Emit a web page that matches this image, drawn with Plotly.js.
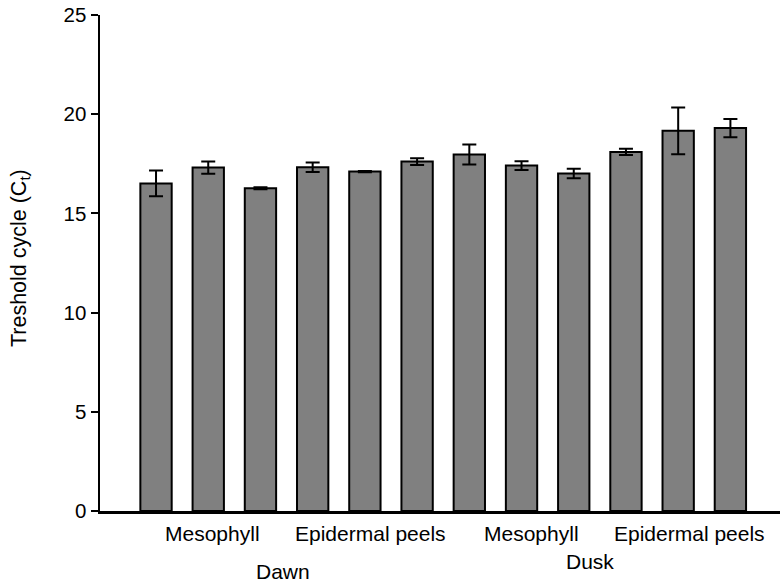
<!DOCTYPE html>
<html>
<head>
<meta charset="utf-8">
<script src="https://cdn.plot.ly/plotly-3.0.1.min.js"></script>
<style>
  html, body { margin: 0; padding: 0; background: #ffffff; }
  #chart { width: 781px; height: 585px; }
</style>
</head>
<body>
<div id="chart"></div>
<script>
// Threshold cycle (Ct) per sample, dawn then dusk, mesophyll then epidermal peels
const ctValues = [16.51, 17.31, 16.27, 17.33, 17.11, 17.61, 17.97, 17.41, 17.01, 18.10, 19.16, 19.30];
const ctErrors = [0.65, 0.31, 0.05, 0.24, 0.03, 0.17, 0.50, 0.22, 0.24, 0.16, 1.18, 0.46];

// Tissue labels and the bar each one sits under
const tissueLabels = ['Mesophyll', 'Epidermal peels', 'Mesophyll', 'Epidermal peels'];
const tissueAt = [2.08, 5.11, 8.19, 11.22];

// Time-of-day labels
const timeLabels = ['Dawn', 'Dusk'];
const timeAt = [3.44, 9.31];
const timeRow = [-0.1219, -0.1012];

const barPos = ctValues.map((_, i) => i + 1);

const font = 'Liberation Sans, Arial, sans-serif';

const trace = {
  type: 'bar',
  x: barPos,
  y: ctValues,
  width: 0.6,
  marker: { color: '#808080', line: { color: '#000000', width: 2 } },
  error_y: { type: 'data', array: ctErrors, visible: true, color: '#000000', thickness: 2, width: 7 },
  hoverinfo: 'y'
};

const annotations = [];
tissueLabels.forEach((t, i) => annotations.push({
  text: t, x: tissueAt[i], xref: 'x', y: -0.0463, yref: 'paper',
  xanchor: 'center', yanchor: 'middle', showarrow: false,
  font: { family: font, size: 21, color: '#000000' }
}));
timeLabels.forEach((t, i) => annotations.push({
  text: t, x: timeAt[i], xref: 'x', y: timeRow[i], yref: 'paper',
  xanchor: 'center', yanchor: 'middle', showarrow: false,
  font: { family: font, size: 21, color: '#000000' }
}));
annotations.push({
  text: 'Treshold cycle (C<sub>t</sub>)', textangle: -90,
  x: -0.1176, xref: 'paper', y: 0.51, yref: 'paper',
  xanchor: 'center', yanchor: 'middle', showarrow: false,
  font: { family: font, size: 21.5, color: '#000000' }
});

const layout = {
  width: 781,
  height: 585,
  margin: { l: 100, r: 1, t: 15, b: 73.5 },
  paper_bgcolor: '#ffffff',
  plot_bgcolor: '#ffffff',
  showlegend: false,
  font: { family: font, color: '#000000' },
  xaxis: {
    range: [-0.073, 12.95],
    showticklabels: false,
    ticks: '',
    showgrid: false,
    zeroline: false,
    showline: true,
    linecolor: '#000000',
    linewidth: 3
  },
  yaxis: {
    range: [0, 25],
    tickvals: [0, 5, 10, 15, 20, 25],
    ticks: 'outside',
    ticklen: 7,
    tickwidth: 2,
    tickcolor: '#000000',
    tickfont: { family: font, size: 20.5, color: '#000000' },
    showgrid: false,
    zeroline: false,
    showline: true,
    linecolor: '#000000',
    linewidth: 2.5
  },
  annotations: annotations
};

Plotly.newPlot('chart', [trace], layout, { displayModeBar: false, staticPlot: true });
</script>
</body>
</html>
